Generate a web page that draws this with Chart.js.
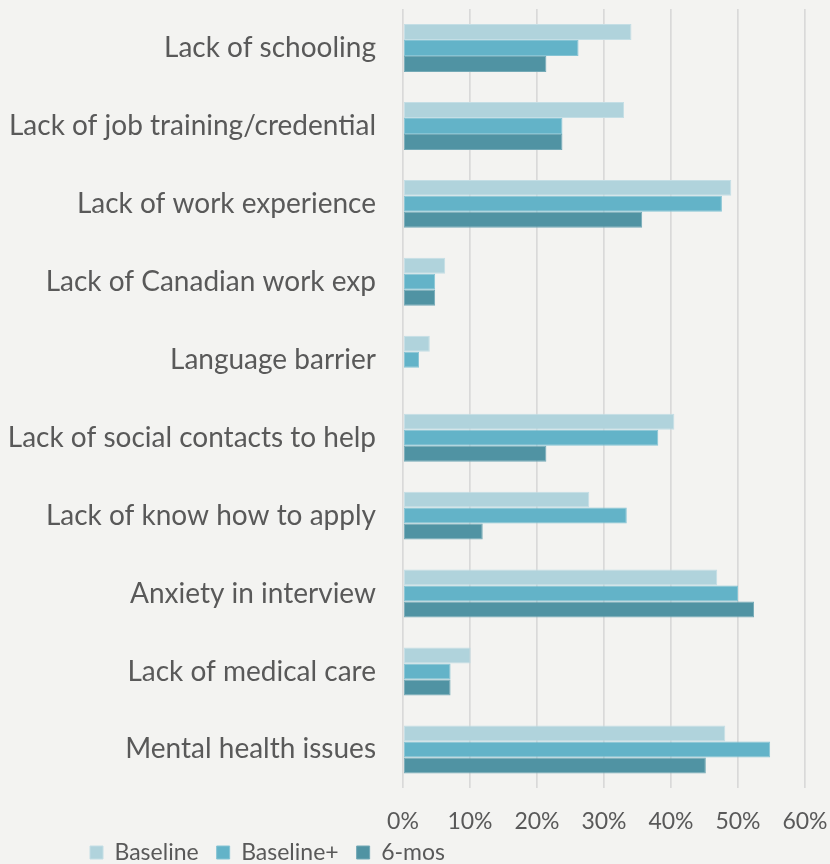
<!DOCTYPE html>
<html>
<head>
<meta charset="utf-8">
<script src="https://cdn.jsdelivr.net/npm/chart.js@4.4.1/dist/chart.umd.min.js"></script>
<style>
    html, body { margin: 0; padding: 0; background: #f3f3f1; }
    #wrap { width: 830px; height: 864px; position: relative; }
</style>
</head>
<body>
<div id="wrap"><canvas id="barriersChart"></canvas></div>
<script>
const categories = [
    'Lack of schooling',
    'Lack of job training/credential',
    'Lack of work experience',
    'Lack of Canadian work exp',
    'Language barrier',
    'Lack of social contacts to help',
    'Lack of know how to apply',
    'Anxiety in interview',
    'Lack of medical care',
    'Mental health issues'
];
const baseline = [34.1, 33.0, 49.0, 6.3, 4.0, 40.5, 27.8, 46.9, 10.1, 48.1];
const baselinePlus = [26.2, 23.8, 47.6, 4.8, 2.4, 38.1, 33.4, 50.0, 7.1, 54.8];
const sixMonths = [21.4, 23.8, 35.7, 4.8, 0, 21.4, 11.9, 52.4, 7.1, 45.2];
const xTicks = [0, 10, 20, 30, 40, 50, 60];

const textColor = '#595959';
const fontFamily = "Lato, 'Open Sans', sans-serif";

function series(label, data, color, edge) {
    return {
        label: label,
        data: data,
        backgroundColor: color,
        borderColor: edge,
        borderWidth: 1,
        borderSkipped: false,
        barPercentage: 1.0,
        categoryPercentage: 0.615
    };
}

// nudge the legend row right and up, tucked under the axis labels
const legendOffset = {
    id: 'legendOffset',
    afterLayout(chart) {
        const lg = chart.legend;
        lg.left += 72;
        lg.right += 72;
        lg.top -= 31;
        lg.bottom -= 31;
    }
};

const ctx = document.getElementById('barriersChart').getContext('2d');
new Chart(ctx, {
    type: 'bar',
    data: {
        labels: categories,
        datasets: [
            series('Baseline', baseline, '#b0d3dc', '#c4dee5'),
            series('Baseline+', baselinePlus, '#63b3c8', '#86c4d4'),
            series('6-mos', sixMonths, '#5093a3', '#73a9b6')
        ]
    },
    plugins: [legendOffset],
    options: {
        indexAxis: 'y',
        responsive: true,
        maintainAspectRatio: false,
        animation: false,
        layout: { padding: { top: 9, left: 0, right: 25, bottom: -41 } },
        plugins: {
            legend: {
                position: 'bottom',
                align: 'start',
                labels: {
                    color: textColor,
                    font: { family: fontFamily, size: 23 },
                    boxWidth: 13,
                    boxHeight: 13,
                    padding: 18
                }
            },
            tooltip: { enabled: false }
        },
        scales: {
            x: {
                min: 0,
                max: 60,
                afterBuildTicks: (scale) => {
                    scale.ticks = xTicks.map(v => ({ value: v }));
                },
                afterFit: (scale) => {
                    scale.paddingLeft = 0;
                    scale.paddingRight = 0;
                },
                grid: { color: '#d9d9d9', lineWidth: 1.7, drawTicks: false },
                border: { display: false },
                ticks: {
                    color: textColor,
                    font: { family: fontFamily, size: 23 },
                    padding: 19,
                    callback: (v) => v + '%'
                }
            },
            y: {
                grid: { display: false, drawTicks: false },
                border: { display: false },
                afterFit: (scale) => {
                    scale.width = 403;
                    scale.paddingTop = 0;
                    scale.paddingBottom = 0;
                },
                ticks: {
                    color: textColor,
                    font: { family: fontFamily, size: 28 },
                    padding: 27,
                    autoSkip: false
                }
            }
        }
    }
});
</script>
</body>
</html>
